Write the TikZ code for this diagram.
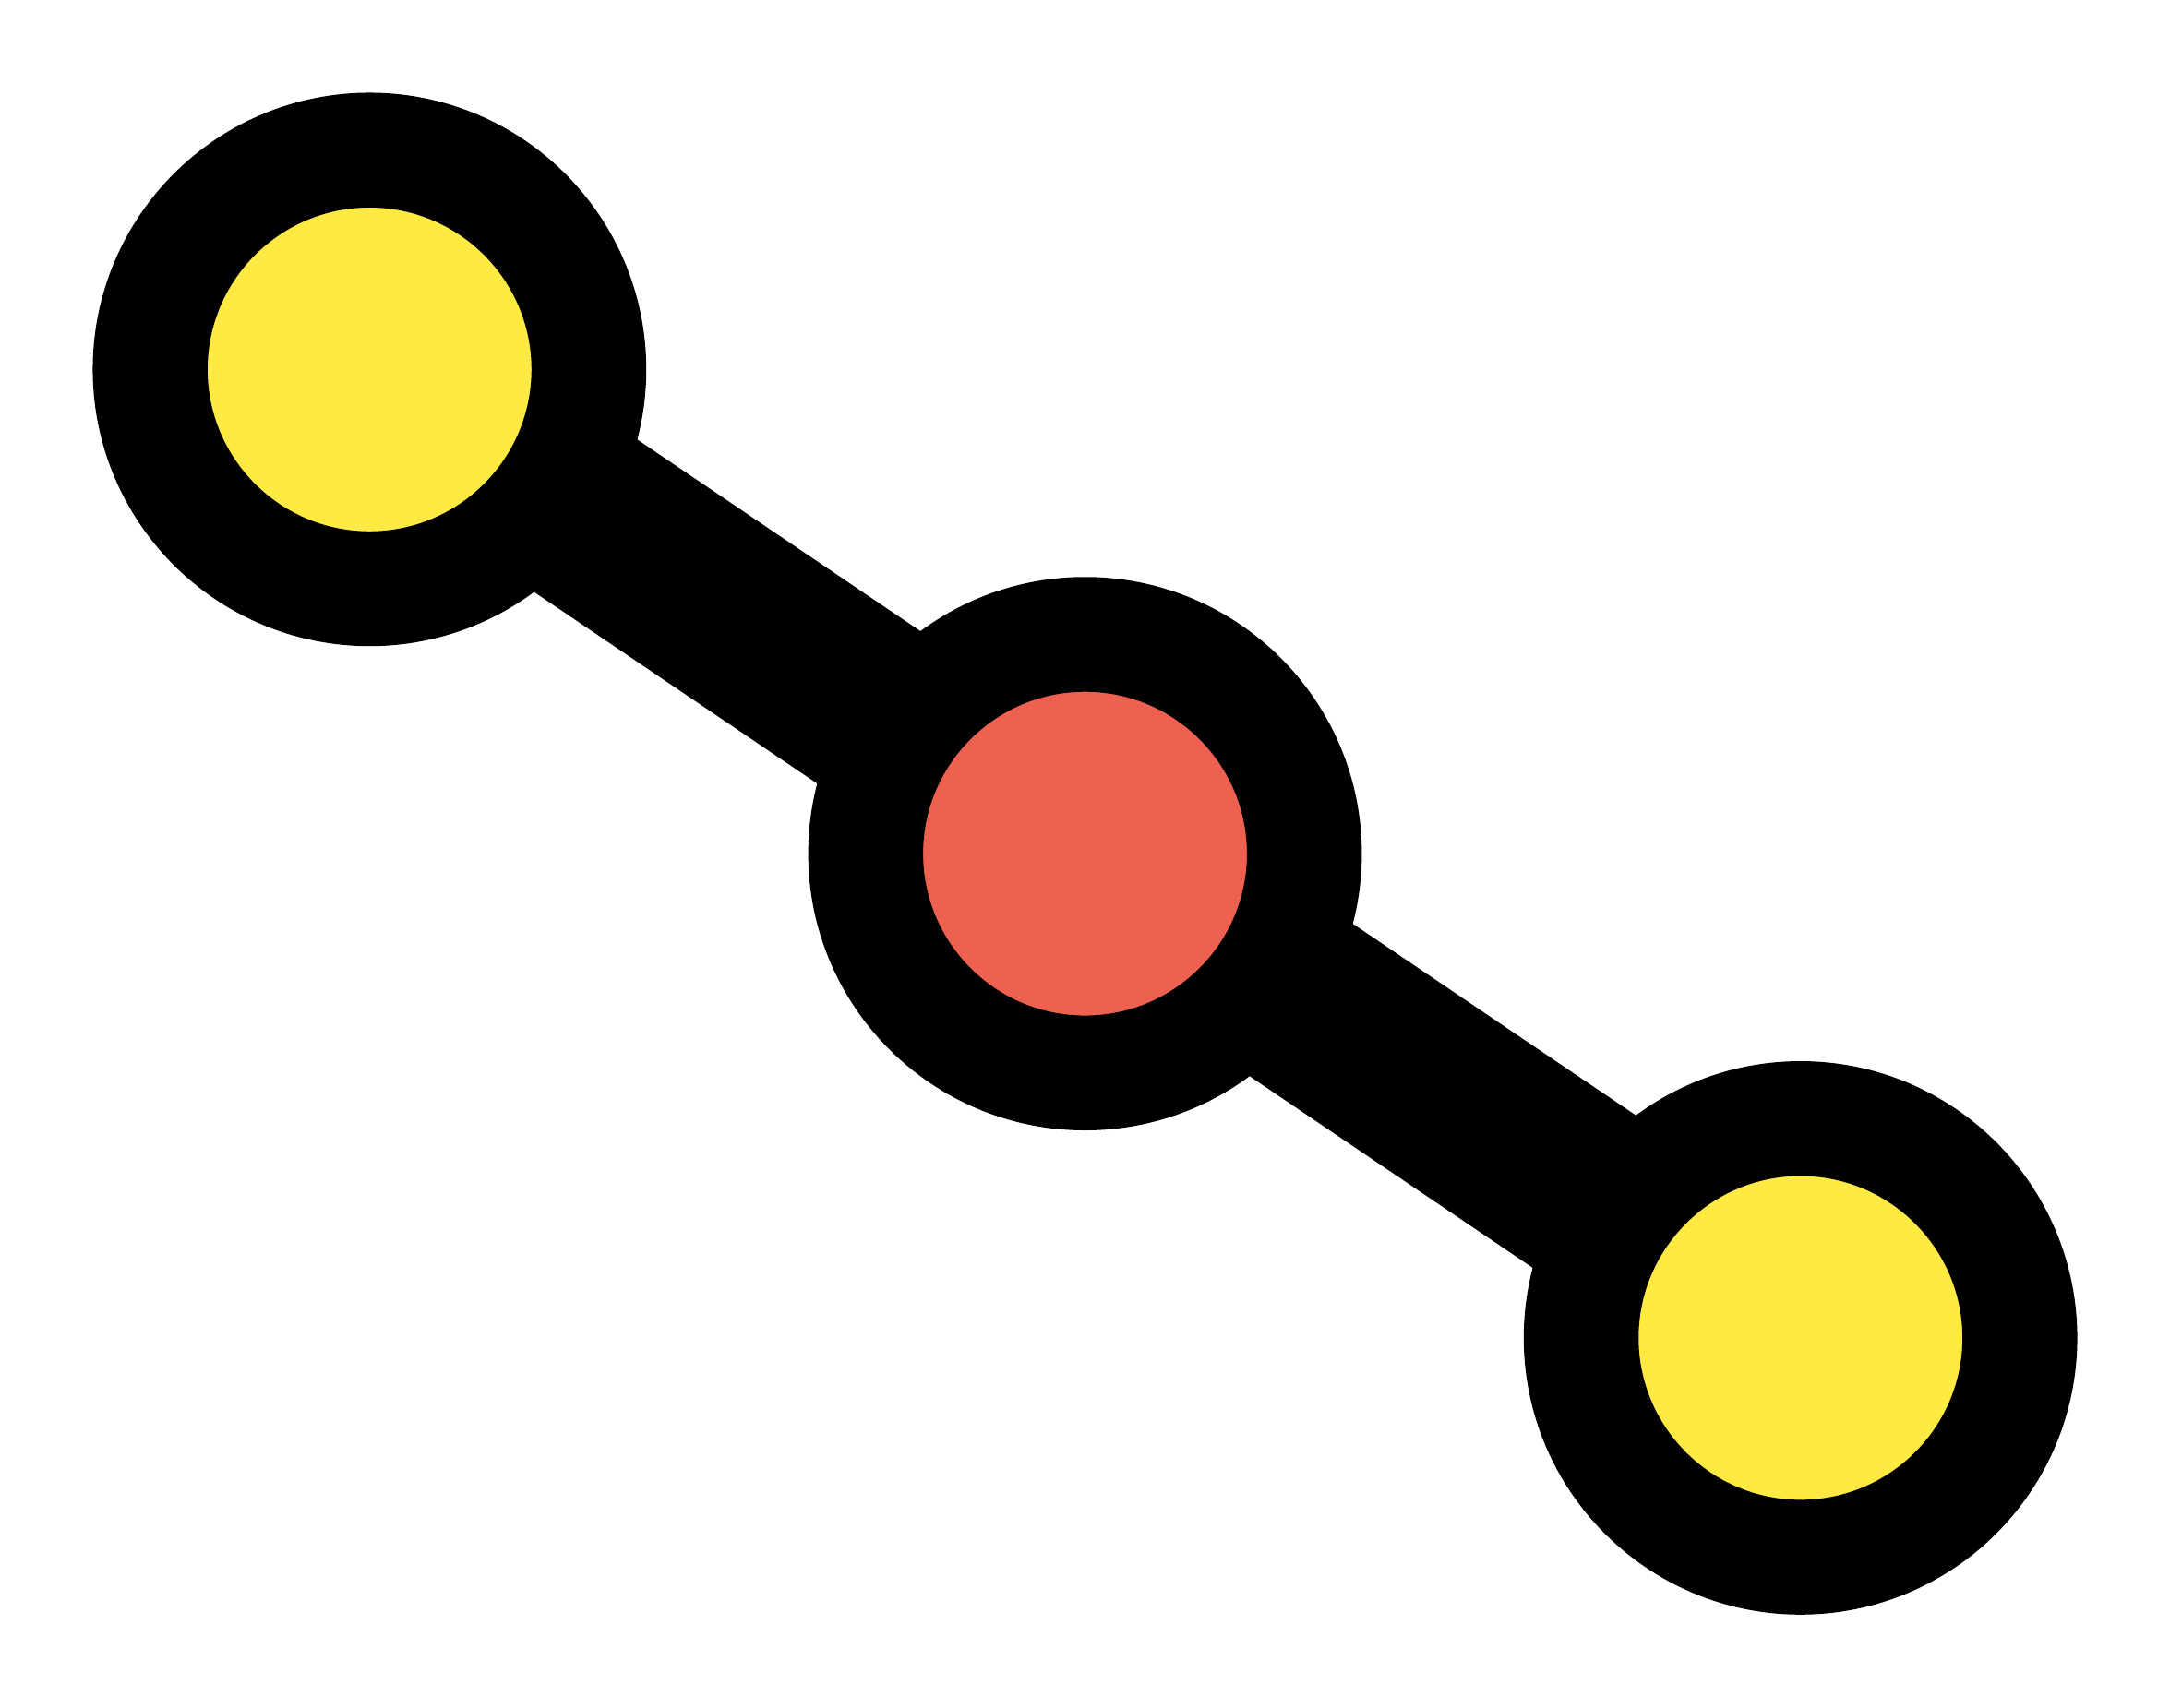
\documentclass[tikz,border=0pt]{standalone}
\usetikzlibrary{positioning}
\usetikzlibrary{backgrounds}
\definecolor{nodeyellow}{HTML}{FFE943}
\definecolor{nodered}{HTML}{EE6150}

\tikzset{
	dot/.style={circle,draw=black,line width=0.83cm,minimum size=3.17cm,inner sep=0pt},
	link/.style={draw=black,line width=1.33cm},
}

\begin{document}
\begin{tikzpicture}[node distance=3.5cm and 5.17cm,on grid]
	\useasboundingbox (0,0) rectangle (15.68,-12.345);
	% nodes
	\node[dot,fill=nodeyellow] (top) at (2.67,-2.67) {};%
	\node[dot,fill=nodered,below right=of top] (mid) {};%
	\node[dot,fill=nodeyellow,below right=of mid] (bot) {};%

	% edges
	\begin{scope}[on background layer]
	\path[link] (top.center) -- (mid.center);
	\path[link] (mid.center) -- (bot.center);
	\end{scope}
\end{tikzpicture}
\end{document}
